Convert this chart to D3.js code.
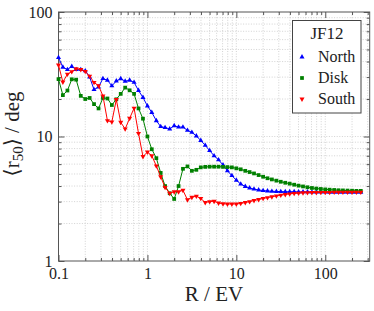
<!DOCTYPE html>
<html>
<head>
<meta charset="utf-8">
<script src="https://cdn.jsdelivr.net/npm/d3@7"></script>
<style>
  body { margin: 0; background: #fff; }
  svg { display: block; }
  .grid line { stroke: #c8c8c8; stroke-width: 0.8; stroke-dasharray: 1,1.6; }
  .axis path, .axis line { stroke: #555; }
  .axis .domain { display: none; }
</style>
</head>
<body>
<svg width="374" height="311"></svg>
<script>
var width = 374;
var height = 311;
var serif = "'Liberation Serif', 'DejaVu Serif', serif";

// R / EV, 20 per decade
var R = [0.1, 0.112, 0.126, 0.141, 0.158, 0.178, 0.2, 0.224, 0.251, 0.282,
    0.316, 0.355, 0.398, 0.447, 0.501, 0.562, 0.631, 0.708, 0.794, 0.891,
    1, 1.12, 1.26, 1.41, 1.58, 1.78, 2.0, 2.24, 2.51, 2.82,
    3.16, 3.55, 3.98, 4.47, 5.01, 5.62, 6.31, 7.08, 7.94, 8.91,
    10, 11.2, 12.6, 14.1, 15.8, 17.8, 20, 22.4, 25.1, 28.2,
    31.6, 35.5, 39.8, 44.7, 50.1, 56.2, 63.1, 70.8, 79.4, 89.1,
    100, 112, 126, 141, 158, 178, 200, 224, 251];

var north = [43, 36, 34.5, 36.5, 34.5, 34.5, 33.7, 30, 23.8, 25,
    29.2, 28.3, 25.5, 27.9, 29.1, 27.8, 28.3, 27.2, 23.4, 20.6,
    17.6, 15.6, 13.4, 12.0, 11.8, 11.5, 12.2, 11.9, 11.9, 11.2,
    10.8, 10.1, 9.3, 8.5, 7.7, 7.0, 6.5, 5.9, 5.3, 4.85,
    4.45, 4.15, 3.97, 3.86, 3.78, 3.72, 3.68, 3.65, 3.63, 3.62,
    3.61, 3.6, 3.6, 3.6, 3.59, 3.59, 3.59, 3.58, 3.58, 3.58,
    3.58, 3.57, 3.57, 3.57, 3.57, 3.56, 3.56, 3.56, 3.56];

var disk = [28.9, 21.5, 23.4, 28.8, 28.6, 21.2, 20.0, 20.4, 18.2, 16.8,
    20.4, 20.2, 17.9, 19.9, 22.0, 24.7, 23.5, 22.0, 16.8, 13.9,
    10.0, 7.9, 6.7, 5.1, 4.0, 3.5, 3.15, 4.0, 5.5, 5.75,
    5.3, 5.4, 5.65, 5.7, 5.72, 5.72, 5.72, 5.7, 5.68, 5.65,
    5.55, 5.45, 5.3, 5.18, 5.05, 4.9, 4.75, 4.62, 4.52, 4.42,
    4.33, 4.25, 4.18, 4.1, 4.03, 3.97, 3.91, 3.86, 3.82, 3.79,
    3.76, 3.74, 3.72, 3.7, 3.69, 3.68, 3.67, 3.66, 3.66];

var south = [37.5, 27.4, 31.7, 33.2, 35, 34.5, 33.3, 30.5, 27.2, 25.6,
    21.2, 13.4, 13.1, 19.8, 13.0, 11.5, 14.0, 16.9, 10.6, 6.9,
    7.5, 7.0, 5.8, 4.75, 3.9, 3.5, 3.6, 3.6, 3.7, 3.1,
    3.25, 3.32, 3.18, 2.95, 3.0, 3.02, 2.92, 2.88, 2.87, 2.87,
    2.87, 2.9, 2.95, 3.0, 3.06, 3.12, 3.18, 3.23, 3.28, 3.33,
    3.38, 3.42, 3.46, 3.49, 3.51, 3.53, 3.54, 3.55, 3.55, 3.56,
    3.56, 3.56, 3.57, 3.57, 3.57, 3.57, 3.57, 3.57, 3.57];

var xTicks = [0.1, 1, 10, 100];
var yTicks = [1, 10, 100];

var series = [
    { name: "North", values: north, color: "#0000ff", symbol: "up" },
    { name: "Disk", values: disk, color: "#008000", symbol: "square" },
    { name: "South", values: south, color: "#ff0000", symbol: "down" }
];

// plot box (note: "top" is taken by window.top, so p-prefixed)
var pLeft = 58.5, pRight = 369.7, pTop = 12, pBottom = 261;

var x = d3.scaleLog().domain([0.1, 316]).range([pLeft, pRight]);
var y = d3.scaleLog().domain([1, 100]).range([pBottom, pTop]);

var svg = d3.select("svg");

// dotted grid at every tick
var grid = svg.append("g").attr("class", "grid");
grid.selectAll(".gx")
    .data(x.ticks().filter(function (d) { return d > 0.1; }))
    .enter().append("line")
    .attr("x1", function (d) { return x(d); })
    .attr("x2", function (d) { return x(d); })
    .attr("y1", pTop).attr("y2", pBottom);
grid.selectAll(".gy")
    .data(y.ticks().filter(function (d) { return d > 1 && d < 100; }))
    .enter().append("line")
    .attr("y1", function (d) { return y(d); })
    .attr("y2", function (d) { return y(d); })
    .attr("x1", pLeft).attr("x2", pRight);

// minor ticks (inward, all sides)
var xMinor = x.ticks().filter(function (d) { return xTicks.indexOf(d) < 0; });
var yMinor = y.ticks().filter(function (d) { return yTicks.indexOf(d) < 0; });

function noLabels(a) { return a.tickFormat(""); }
function addAxis(axis, tx, ty) {
    return svg.append("g").attr("class", "axis")
        .attr("transform", "translate(" + tx + "," + ty + ")")
        .call(axis);
}

addAxis(noLabels(d3.axisBottom(x).tickValues(xMinor).tickSize(-3)), 0, pBottom);
addAxis(noLabels(d3.axisTop(x).tickValues(xMinor).tickSize(-3)), 0, pTop);
addAxis(noLabels(d3.axisLeft(y).tickValues(yMinor).tickSize(-3)), pLeft, 0);
addAxis(noLabels(d3.axisRight(y).tickValues(yMinor).tickSize(-3)), pRight, 0);

// major ticks + labels
addAxis(d3.axisBottom(x).tickValues(xTicks).tickSize(-6).tickPadding(7)
        .tickFormat(function (d) { return d < 1 ? "0.1" : d3.format("d")(d); }), 0, pBottom);
addAxis(noLabels(d3.axisTop(x).tickValues(xTicks).tickSize(-6)), 0, pTop);
addAxis(d3.axisLeft(y).tickValues(yTicks).tickSize(-6).tickPadding(6)
        .tickFormat(d3.format("d")), pLeft, 0);
addAxis(noLabels(d3.axisRight(y).tickValues(yTicks).tickSize(-6)), pRight, 0);

svg.selectAll(".axis text")
    .style("font-family", serif)
    .style("font-size", "16px")
    .style("fill", "#222");

// frame
svg.append("rect")
    .attr("x", pLeft).attr("y", pTop)
    .attr("width", pRight - pLeft).attr("height", pBottom - pTop)
    .attr("fill", "none").attr("stroke", "#555").attr("stroke-width", 1);

// symbols
function symbolPath(kind) {
    if (kind === "square") return d3.symbol().type(d3.symbolSquare).size(14)();
    return d3.symbol().type(d3.symbolTriangle).size(11)();
}
function symbolTransform(kind, px, py) {
    var t = "translate(" + px + "," + py + ")";
    if (kind === "down") t += " rotate(180)";
    return t;
}

var line = d3.line()
    .x(function (d) { return x(d[0]); })
    .y(function (d) { return y(d[1]); });

series.forEach(function (s) {
    var pts = R.map(function (r, i) { return [r, s.values[i]]; });
    var g = svg.append("g");
    g.append("path")
        .datum(pts)
        .attr("d", line)
        .attr("fill", "none")
        .attr("stroke", s.color)
        .attr("stroke-width", 1);
    g.selectAll("path.mark")
        .data(pts)
        .enter().append("path")
        .attr("class", "mark")
        .attr("d", symbolPath(s.symbol))
        .attr("transform", function (d) {
            return symbolTransform(s.symbol, x(d[0]), y(d[1]));
        })
        .attr("fill", s.color);
});

// axis titles
svg.append("text")
    .attr("x", 214)
    .attr("y", 301)
    .attr("text-anchor", "middle")
    .style("font-family", serif)
    .style("font-size", "21px")
    .style("fill", "#222")
    .text("R / EV");

var yl = svg.append("text")
    .attr("transform", "translate(19,134) rotate(-90)")
    .attr("text-anchor", "middle")
    .style("font-family", serif)
    .style("font-size", "21px")
    .style("fill", "#222");
yl.append("tspan").text("\u27E8r");
yl.append("tspan").style("font-size", "15px").attr("dy", 4).text("50");
yl.append("tspan").attr("dy", -4).text("\u27E9 / deg");

// legend
var lg = svg.append("g");
lg.append("rect")
    .attr("x", 292.5).attr("y", 20.5)
    .attr("width", 68.5).attr("height", 92.5)
    .attr("fill", "#fff").attr("stroke", "#444").attr("stroke-width", 1);
lg.append("text")
    .attr("x", 327).attr("y", 39)
    .attr("text-anchor", "middle")
    .style("font-family", serif)
    .style("font-size", "17px")
    .style("fill", "#222")
    .text("JF12");
series.forEach(function (s, i) {
    var cy = 57 + i * 21;
    lg.append("path")
        .attr("d", symbolPath(s.symbol))
        .attr("transform", symbolTransform(s.symbol, 302, cy))
        .attr("fill", s.color);
    lg.append("text")
        .attr("x", 318).attr("y", cy + 5)
        .style("font-family", serif)
        .style("font-size", "16px")
        .style("fill", "#222")
        .text(s.name);
});
</script>
</body>
</html>
